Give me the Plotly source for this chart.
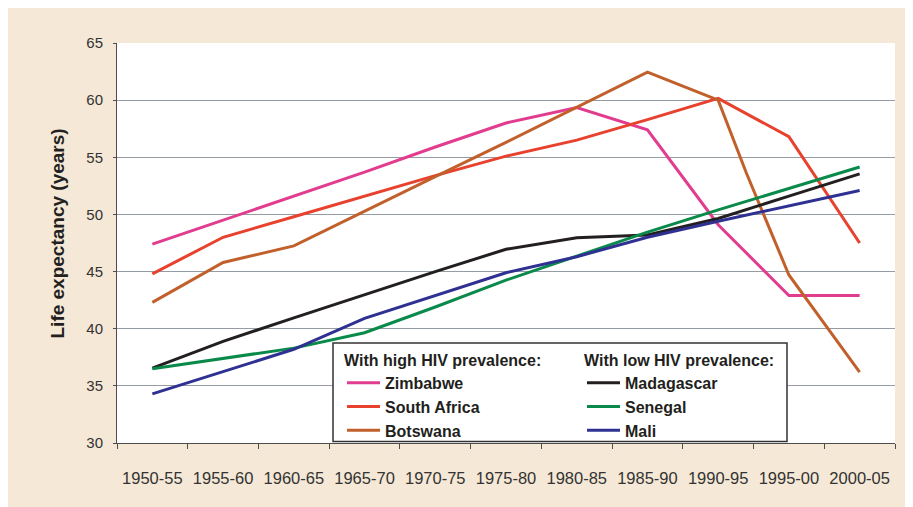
import plotly.graph_objects as go

# ---------------- data ----------------
periods = ["1950-55", "1955-60", "1960-65", "1965-70", "1970-75", "1975-80",
           "1980-85", "1985-90", "1990-95", "1995-00", "2000-05"]
mid_years = [1952.5, 1957.5, 1962.5, 1967.5, 1972.5, 1977.5,
             1982.5, 1987.5, 1992.5, 1997.5, 2002.5]

zimbabwe = [47.4, 49.5, 51.6, 53.7, 55.9, 58.0, 59.35, 57.4, 49.1, 42.9, 42.9]
south_africa = [44.8, 48.0, 49.8, 51.6, 53.4, 55.1, 56.5, 58.3, 60.15, 56.8, 47.5]
botswana_years = [1952.5, 1957.5, 1962.5, 1967.5, 1972.5, 1977.5,
                  1982.5, 1987.5, 1992.5, 1994.5, 1997.5, 2002.5]
botswana = [42.3, 45.8, 47.25, 50.3, 53.3, 56.3, 59.4, 62.45, 60.0, 53.6, 44.7, 36.2]
madagascar = [36.55, 38.9, 40.95, 43.0, 45.0, 46.95, 47.95, 48.2, 49.65, 51.6, 53.55]
senegal = [36.5, 37.4, 38.3, 39.65, 41.9, 44.25, 46.35, 48.45, 50.4, 52.3, 54.15]
mali = [34.3, 36.25, 38.2, 40.9, 42.9, 44.9, 46.3, 48.0, 49.4, 50.75, 52.1]

y_ticks = [30, 35, 40, 45, 50, 55, 60, 65]

high_series = [
    ("Zimbabwe", mid_years, zimbabwe, "#E23C8F"),
    ("South Africa", mid_years, south_africa, "#E8412E"),
    ("Botswana", botswana_years, botswana, "#C2602C"),
]
low_series = [
    ("Madagascar", mid_years, madagascar, "#231F20"),
    ("Senegal", mid_years, senegal, "#0A8A4A"),
    ("Mali", mid_years, mali, "#2E3192"),
]

FONT = "Arial, Liberation Sans, sans-serif"

fig = go.Figure()
for name, xs, ys, col in high_series:
    fig.add_trace(go.Scatter(x=xs, y=ys, mode="lines", name=name,
                             line=dict(color=col, width=3), legend="legend"))
for name, xs, ys, col in low_series:
    fig.add_trace(go.Scatter(x=xs, y=ys, mode="lines", name=name,
                             line=dict(color=col, width=3), legend="legend2"))

# page body adds an 8px offset; layout helpers take screenshot pixel coords
OFF = 8
W, H = 913, 507
L, T = 117 - OFF, 43 - OFF
R = W - (895 - OFF)
B = H - (443 - OFF)
pw, ph = W - L - R, H - T - B

def px(xs):
    return (xs - OFF - L) / pw

def py(ys):
    return (H - B - (ys - OFF)) / ph

legend_common = dict(
    bgcolor="rgba(0,0,0,0)", borderwidth=0,
    font=dict(family=FONT, size=16, color="#231F20", weight="bold"),
    xanchor="left", yanchor="top", tracegroupgap=0, itemwidth=33,
)
title_font = dict(family=FONT, size=16, color="#231F20", weight="bold")

fig.update_layout(
    width=W, height=H,
    margin=dict(l=L, r=R, t=T, b=B, pad=0),
    paper_bgcolor="#F5E8D6",
    plot_bgcolor="white",
    font=dict(family=FONT, color="#231F20"),
    showlegend=True,
    legend=dict(**legend_common, x=px(342), y=py(345),
                title=dict(text="With high HIV prevalence:", font=title_font)),
    legend2=dict(**legend_common, x=px(582), y=py(345),
                 title=dict(text="With low HIV prevalence:", font=title_font)),
    xaxis=dict(
        range=[1950, 2005], tickmode="array", tickvals=mid_years, ticktext=periods,
        ticks="", showgrid=False, zeroline=False,
        showline=True, linecolor="#4d4d4d", linewidth=1,
        tickfont=dict(family=FONT, size=16.5, color="#333333"),
        ticklabelstandoff=20,
        minor=dict(tick0=1950, dtick=5, ticks="outside", ticklen=5,
                   tickcolor="#4d4d4d", tickwidth=1, showgrid=False),
    ),
    yaxis=dict(
        range=[30, 65], tickmode="array", tickvals=y_ticks,
        showgrid=True, gridcolor="#959CA4", gridwidth=1, zeroline=False,
        showline=True, linecolor="#4d4d4d", linewidth=1,
        ticks="outside", ticklen=3, tickcolor="#4d4d4d",
        tickfont=dict(family=FONT, size=15, color="#333333"),
        ticklabelstandoff=7,
    ),
    shapes=[
        dict(type="rect", xref="paper", yref="paper", layer="above",
             x0=px(333), x1=px(787), y0=py(441.5), y1=py(343),
             fillcolor="white", line=dict(color="#333333", width=1.5)),
    ],
    annotations=[
        dict(text="Life expectancy (years)", xref="paper", yref="paper",
             x=px(57), y=py(233.5), textangle=-90, showarrow=False,
             xanchor="center", yanchor="middle",
             font=dict(family=FONT, size=19, color="#231F20", weight="bold")),
    ],
)

fig.write_html("out.html")
